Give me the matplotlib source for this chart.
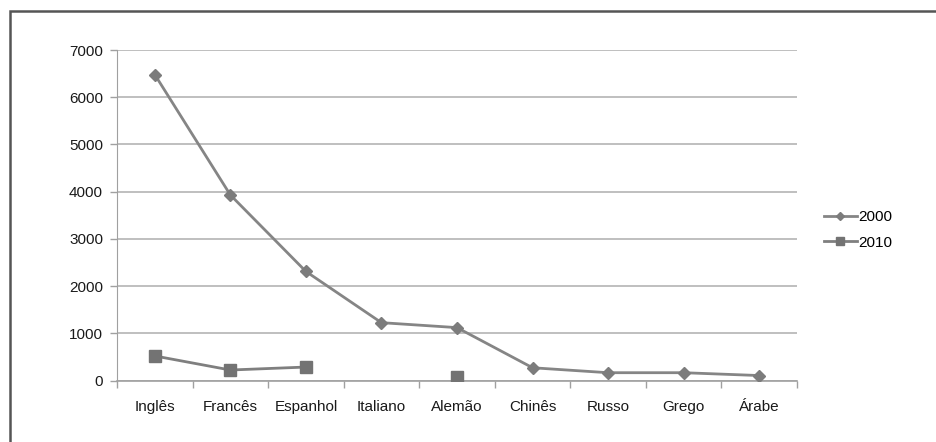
import numpy as np
import matplotlib.pyplot as plt
from matplotlib.patches import Rectangle

plt.rcParams['font.family'] = ['Liberation Sans', 'DejaVu Sans']

categories = ["Inglês", "Francês", "Espanhol", "Italiano", "Alemão",
              "Chinês", "Russo", "Grego", "Árabe"]
series_2000 = [6480, 3930, 2310, 1225, 1120, 270, 165, 165, 105]
series_2010 = [520, 222, 285, np.nan, 80, np.nan, np.nan, np.nan, np.nan]
y_ticks = [0, 1000, 2000, 3000, 4000, 5000, 6000, 7000]

fig = plt.figure(figsize=(9.36, 4.42), dpi=100)

# outer frame (extends past the right and bottom edges)
fig.patches.append(Rectangle((10 / 936, -0.05), 1.2, 1 - 11 / 442 + 0.05,
                             transform=fig.transFigure, fill=False,
                             edgecolor='#555555', linewidth=1.8))

ax = fig.add_axes([117 / 936, 1 - 380.5 / 442, 680 / 936, 330.5 / 442])
x = np.arange(len(categories))

ax.plot(x, series_2000, color='#858585', linewidth=2.0, marker='D',
        markersize=6, markerfacecolor='#7c7c7c', markeredgecolor='#7c7c7c',
        label='2000', zorder=3)
ax.plot(x, series_2010, color='#7f7f7f', linewidth=2.0, marker='s',
        markersize=8, markerfacecolor='#737373', markeredgecolor='#737373',
        label='2010', zorder=3)

ax.set_xlim(-0.5, len(categories) - 0.5)
ax.set_ylim(0, 7000)
ax.set_yticks(y_ticks)
ax.set_yticklabels([str(v) for v in y_ticks])
ax.yaxis.grid(True, color='#b4b4b4', linewidth=1.2)
ax.set_axisbelow(True)

ax.set_xticks(x)
ax.set_xticklabels(categories)
ax.set_xticks(np.arange(-0.5, len(categories)), minor=True)
ax.tick_params(axis='x', which='major', length=0, pad=14, labelsize=11,
               labelcolor='#1a1a1a')
ax.tick_params(axis='x', which='minor', length=5, color='#a0a0a0', width=1)
ax.tick_params(axis='y', length=5, color='#a0a0a0', width=1, pad=5,
               labelsize=11, labelcolor='#1a1a1a')

for side in ('top', 'right'):
    ax.spines[side].set_visible(False)
ax.spines['left'].set_color('#a0a0a0')
ax.spines['bottom'].set_color('#a0a0a0')
ax.spines['bottom'].set_linewidth(1.2)

fig.legend(loc='center left', bbox_to_anchor=(816 / 936, 1 - 230 / 442),
           frameon=False, fontsize=11, handlelength=2.2, handletextpad=0.05,
           labelspacing=0.75, borderpad=0, markerscale=0.7)

fig.savefig('out.png', dpi=100)
